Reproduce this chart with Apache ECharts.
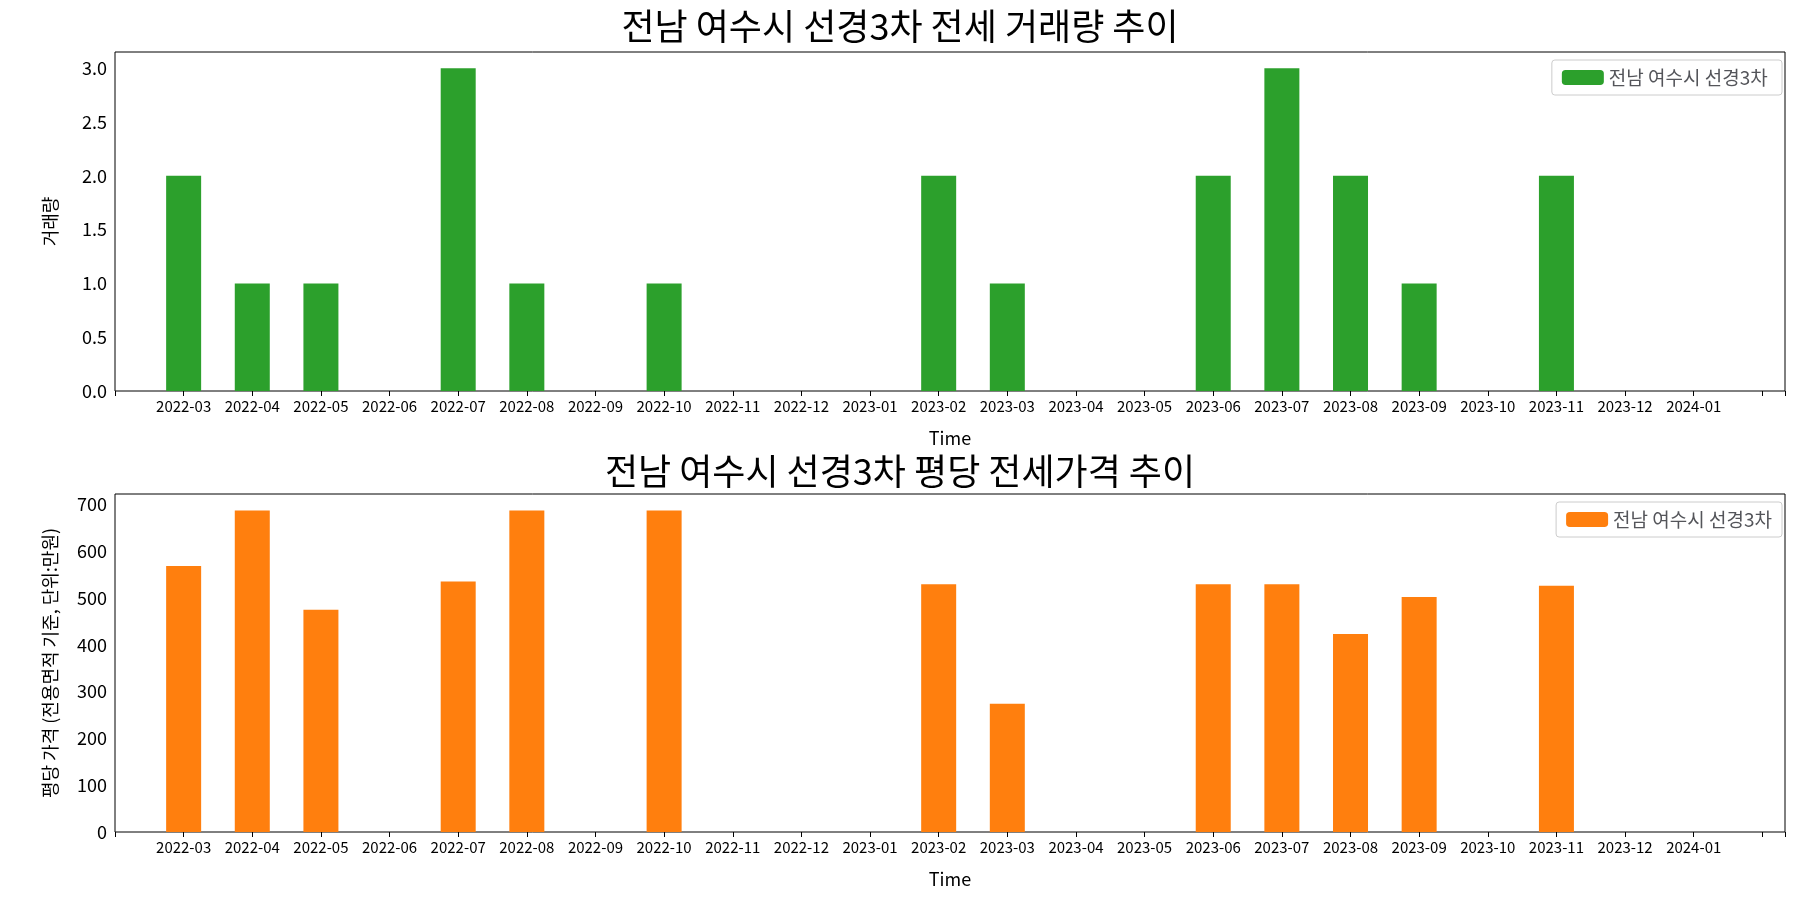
<!DOCTYPE html>
<html><head><meta charset="utf-8">
<script src="https://cdn.jsdelivr.net/npm/echarts@6/dist/echarts.min.js"></script>
<style>html,body{margin:0;background:#fff}#c{width:1800px;height:900px}</style>
</head><body><div id="c"></div>
<script>
var months = ['2022-03','2022-04','2022-05','2022-06','2022-07','2022-08','2022-09','2022-10','2022-11','2022-12','2023-01','2023-02','2023-03','2023-04','2023-05','2023-06','2023-07','2023-08','2023-09','2023-10','2023-11','2023-12','2024-01'];
var volume = [2,1,1,0,3,1,0,1,0,0,0,2,1,0,0,2,3,2,1,0,2,0,0];
var price = [568,687,475,0,535,687,0,687,0,0,0,529,274,0,0,529,529,423,502,0,526,0,0];
var seriesName = '전남 여수시 선경3차';

var font = 'Noto Sans CJK KR';
var chart = echarts.init(document.getElementById('c'));

function xAxis(idx) {
    return {
        type: 'value', gridIndex: idx, min: -1, max: 23.33, interval: 1,
        name: 'Time', nameLocation: 'middle', nameGap: 38,
        nameTextStyle: { fontFamily: font, fontSize: 18, color: '#000' },
        axisLine: { show: false },
        axisTick: { show: true, lineStyle: { color: '#000' } },
        splitLine: { show: false },
        axisLabel: {
            fontFamily: font, fontSize: 15, color: '#000',
            formatter: function (v) { return months[v] || ''; }
        }
    };
}

function yAxis(idx, max, step, name, digits) {
    return {
        type: 'value', gridIndex: idx, min: 0, max: max, interval: step,
        name: name, nameLocation: 'middle', nameGap: 56,
        nameTextStyle: { fontFamily: font, fontSize: 18, color: '#000' },
        axisLine: { show: false },
        axisTick: { show: false },
        splitLine: { show: false },
        axisLabel: {
            fontFamily: font, fontSize: 18, color: '#000',
            formatter: function (v) { return v > max - step / 2 && v % step ? '' : v.toFixed(digits); }
        }
    };
}

function toData(values) {
    return values.map(function (v, i) { return [i, v]; });
}

chart.setOption({
    animation: false,
    title: [
        { text: '전남 여수시 선경3차 전세 거래량 추이', left: 'center', top: 3,
          textStyle: { fontFamily: font, fontSize: 36, fontWeight: 'normal', color: '#000' } },
        { text: '전남 여수시 선경3차 평당 전세가격 추이', left: 'center', top: 448,
          textStyle: { fontFamily: font, fontSize: 36, fontWeight: 'normal', color: '#000' } }
    ],
    legend: [
        { data: [{ name: seriesName + ' ' }], right: 18, top: 60, orient: 'vertical', itemWidth: 42, itemHeight: 15,
          textStyle: { fontFamily: font, fontSize: 19 }, borderColor: '#ccc', borderWidth: 1, borderRadius: 3, padding: [8, 10] },
        { data: [{ name: seriesName }], right: 18, top: 502, orient: 'vertical', itemWidth: 42, itemHeight: 15,
          textStyle: { fontFamily: font, fontSize: 19 }, borderColor: '#ccc', borderWidth: 1, borderRadius: 3, padding: [8, 10] }
    ],
    grid: [
        { left: 115, right: 15, top: 52, height: 339, show: true, borderColor: '#000', borderWidth: 1 },
        { left: 115, right: 15, top: 494, height: 338, show: true, borderColor: '#000', borderWidth: 1 }
    ],
    xAxis: [xAxis(0), xAxis(1)],
    yAxis: [
        yAxis(0, 3.15, 0.5, '거래량', 1),
        yAxis(1, 722, 100, '평당 가격 (전용면적 기준, 단위:만원)', 0)
    ],
    series: [
        { name: seriesName + ' ', type: 'bar', xAxisIndex: 0, yAxisIndex: 0, barWidth: 35,
          itemStyle: { color: '#2ca02c' }, data: toData(volume) },
        { name: seriesName, type: 'bar', xAxisIndex: 1, yAxisIndex: 1, barWidth: 35,
          itemStyle: { color: '#ff7f0e' }, data: toData(price) }
    ]
});
</script>
</body></html>
